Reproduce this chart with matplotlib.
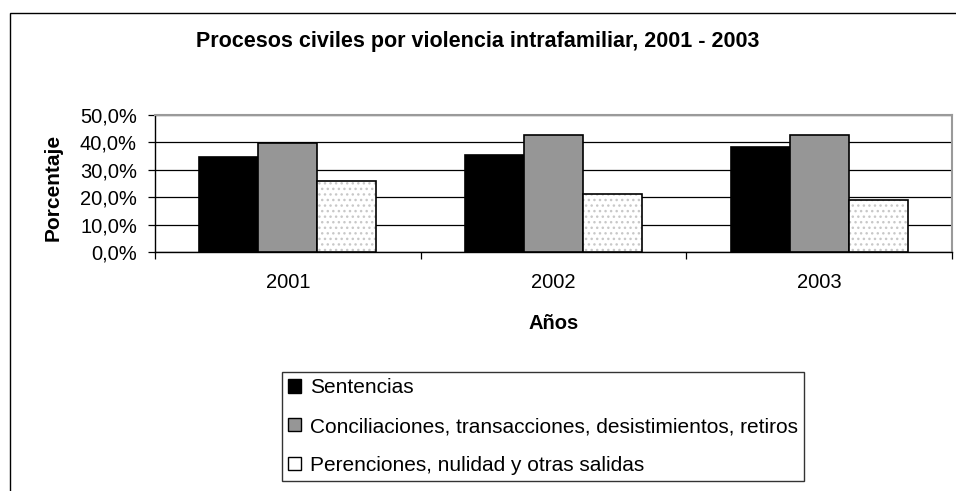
import matplotlib
matplotlib.use("Agg")
import matplotlib.pyplot as plt
import numpy as np
from matplotlib.patches import Rectangle, Patch
from matplotlib.ticker import FixedLocator, FuncFormatter

plt.rcParams['font.family'] = ['Liberation Sans', 'DejaVu Sans']

years = ["2001", "2002", "2003"]
series_names = ["Sentencias",
                "Conciliaciones, transacciones, desistimientos, retiros",
                "Perenciones, nulidad y otras salidas"]
sentencias = [34.7, 35.5, 38.5]
conciliaciones = [39.8, 42.8, 42.8]
perenciones = [25.9, 21.2, 19.1]
yticks = [0, 10, 20, 30, 40, 50]

fig = plt.figure(figsize=(9.56, 4.91), dpi=100)
W, H = 956, 491
ax = fig.add_axes([155 / W, 1 - 252 / H, (952 - 155) / W, (252 - 115) / H])

x = np.arange(len(years))
bw = 1 / 4.5
ax.bar(x - bw, sentencias, bw, color="black", edgecolor="black", linewidth=1.2, zorder=3)
ax.bar(x, conciliaciones, bw, color="#969696", edgecolor="black", linewidth=1.2, zorder=3)
ax.bar(x + bw, perenciones, bw, color="white", edgecolor="#c8c8c8", hatch="...", linewidth=0, zorder=3)
ax.bar(x + bw, perenciones, bw, color="none", edgecolor="black", linewidth=1.2, zorder=4)

ax.set_xlim(-0.5, 2.5)
ax.set_ylim(0, 50)
ax.yaxis.set_major_locator(FixedLocator(yticks))
ax.yaxis.set_major_formatter(FuncFormatter(lambda v, p: f"{v:.1f}%".replace(".", ",")))
ax.grid(axis="y", color="black", linewidth=0.9, zorder=0)
ax.set_axisbelow(True)

ax.set_xticks(x)
ax.set_xticklabels(years)
ax.set_xticks([-0.5, 0.5, 1.5, 2.5], minor=True)
ax.tick_params(axis="x", which="major", length=0, labelsize=14.5, pad=15)
ax.tick_params(axis="x", which="minor", length=5, width=0.9, direction="out")
ax.tick_params(axis="y", length=5, width=0.9, labelsize=14.5, pad=8)

for s in ["left", "bottom"]:
    ax.spines[s].set_color("black")
    ax.spines[s].set_linewidth(1.0)
for s in ["top", "right"]:
    ax.spines[s].set_color("#9a9a9a")
    ax.spines[s].set_linewidth(1.5)

ax.set_ylabel("Porcentaje", fontsize=15, fontweight="bold")
ax.yaxis.set_label_coords((63 - 155) / (952 - 155), (252 - 187) / (252 - 115))
ax.set_xlabel("Años", fontsize=14.5, fontweight="bold", labelpad=16)

fig.text(478 / W, 1 - 42 / H, "Procesos civiles por violencia intrafamiliar, 2001 - 2003",
         ha="center", va="center", fontsize=15.5, fontweight="bold")

# outer chart frame
fig.patches.append(Rectangle((10 / W, -0.1), 1.2, 1 - 13 / H + 0.1, transform=fig.transFigure,
                             fill=False, edgecolor="black", linewidth=1.0))

handles = [Patch(facecolor="black", edgecolor="black"),
           Patch(facecolor="#969696", edgecolor="black"),
           Patch(facecolor="white", edgecolor="black")]
leg = fig.legend(handles, series_names, loc="upper left",
                 bbox_to_anchor=(282 / W, 1 - 372 / H), bbox_transform=fig.transFigure,
                 fontsize=15, frameon=True, fancybox=False, edgecolor="black",
                 handlelength=0.62, handleheight=0.62, handletextpad=0.43,
                 labelspacing=0.95, borderpad=0.3, borderaxespad=0)
leg.get_frame().set_linewidth(1.0)

fig.savefig("out.png", dpi=100)
